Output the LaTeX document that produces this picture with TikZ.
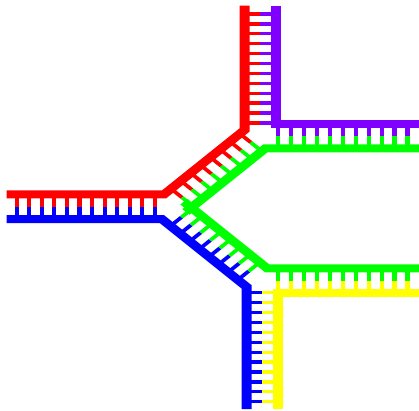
\documentclass[tikz,border=0pt]{standalone}
\definecolor{dnared}{RGB}{255,0,0}
\definecolor{dnablue}{RGB}{0,0,255}
\definecolor{dnagreen}{RGB}{0,255,0}
\definecolor{dnayellow}{RGB}{255,255,0}
\definecolor{dnapurple}{RGB}{128,0,255}
\tikzset{
  strand/.style={line width=10pt, line join=miter, line cap=butt},
  rung/.style={line width=4.2pt, line cap=butt},
}
\begin{document}
\begin{tikzpicture}
\fill[white] (0,0) rectangle (419pt,-410pt);
\useasboundingbox (0,0) rectangle (419pt,-410pt);
\begin{scope}[overlay, transform canvas={yscale=0.8}, x=1pt, y=-1pt]
\clip (0,0) rectangle (419,512.5);
% corner points of the strands
\coordinate (rL) at (6.7,243);   \coordinate (r1) at (164,243);
\coordinate (r2) at (244.5,162.5); \coordinate (rT) at (244.5,7);
\coordinate (bL) at (6.7,274);   \coordinate (b1) at (162,274);
\coordinate (b2) at (246.7,358.7); \coordinate (bB) at (246.7,511.5);
\coordinate (pT) at (276,7);     \coordinate (p1) at (276,155);
\coordinate (pR) at (430,155);
\coordinate (yR) at (430,366.25); \coordinate (y1) at (278,366.25);
\coordinate (yB) at (278,511.5);
\coordinate (gR1) at (430,185.6); \coordinate (g1) at (265.2,185.6);
\coordinate (gE1) at (185.9,264.9);
\coordinate (gR2) at (430,335.6); \coordinate (g2) at (267.4,335.6);
\coordinate (gE2) at (183.9,252.1);
% rungs: left arm (red / blue)
\foreach \k in {0,...,11}{
  \pgfmathsetmacro\xx{16.7+12.56*\k}
  \draw[rung,dnared] (\xx,243) -- (\xx,258.5);
  \draw[rung,dnablue] (\xx,258.5) -- (\xx,274);
}
% top arm (red / purple)
\foreach \k in {0,...,11}{
  \pgfmathsetmacro\yy{17.5+12.375*\k}
  \draw[rung,dnared] (244.5,\yy) -- (260.25,\yy);
  \draw[rung,dnapurple] (260.25,\yy) -- (276,\yy);
}
% bottom arm (blue / yellow)
\foreach \k in {0,...,11}{
  \pgfmathsetmacro\yy{366+12.375*\k}
  \draw[rung,dnablue] (246.7,\yy) -- (262.35,\yy);
  \draw[rung,dnayellow] (262.35,\yy) -- (278,\yy);
}
% top right arm (purple / green) and bottom right arm (green / yellow)
\foreach \k in {0,...,10}{
  \pgfmathsetmacro\xx{278+12.95*\k}
  \draw[rung,dnapurple] (\xx,155) -- (\xx,170.3);
  \draw[rung,dnagreen] (\xx,170.3) -- (\xx,185.6);
  \draw[rung,dnagreen] (\xx,335.6) -- (\xx,350.9);
  \draw[rung,dnayellow] (\xx,350.9) -- (\xx,366.25);
}
% upper diagonal (red / green)
\foreach \k in {0,...,7}{
  \pgfmathsetmacro\tt{(10+13.9*\k)*0.70711}
  \pgfmathsetmacro\ax{164+\tt}
  \pgfmathsetmacro\ay{243-\tt}
  \draw[rung,dnared] (\ax,\ay) -- ++(10.96,10.96);
  \draw[rung,dnagreen] (\ax+10.96,\ay+10.96) -- ++(10.96,10.96);
}
% lower diagonal (blue / green)
\foreach \k in {0,...,7}{
  \pgfmathsetmacro\tt{(12+13.6*\k)*0.70711}
  \pgfmathsetmacro\ax{162+\tt}
  \pgfmathsetmacro\ay{274+\tt}
  \draw[rung,dnablue] (\ax,\ay) -- ++(10.96,-10.96);
  \draw[rung,dnagreen] (\ax+10.96,\ay-10.96) -- ++(10.96,-10.96);
}
% strands
\draw[strand,dnared] (rL) -- (r1) -- (r2) -- (rT);
\draw[strand,dnablue] (bL) -- (b1) -- (b2) -- (bB);
\draw[strand,dnapurple] (pT) -- (p1) -- (pR);
\draw[strand,dnayellow] (yR) -- (y1) -- (yB);
\draw[strand,dnagreen] (gR1) -- (g1) -- (gE1);
\draw[strand,dnagreen] (gR2) -- (g2) -- (gE2);
\end{scope}
\end{tikzpicture}
\end{document}
